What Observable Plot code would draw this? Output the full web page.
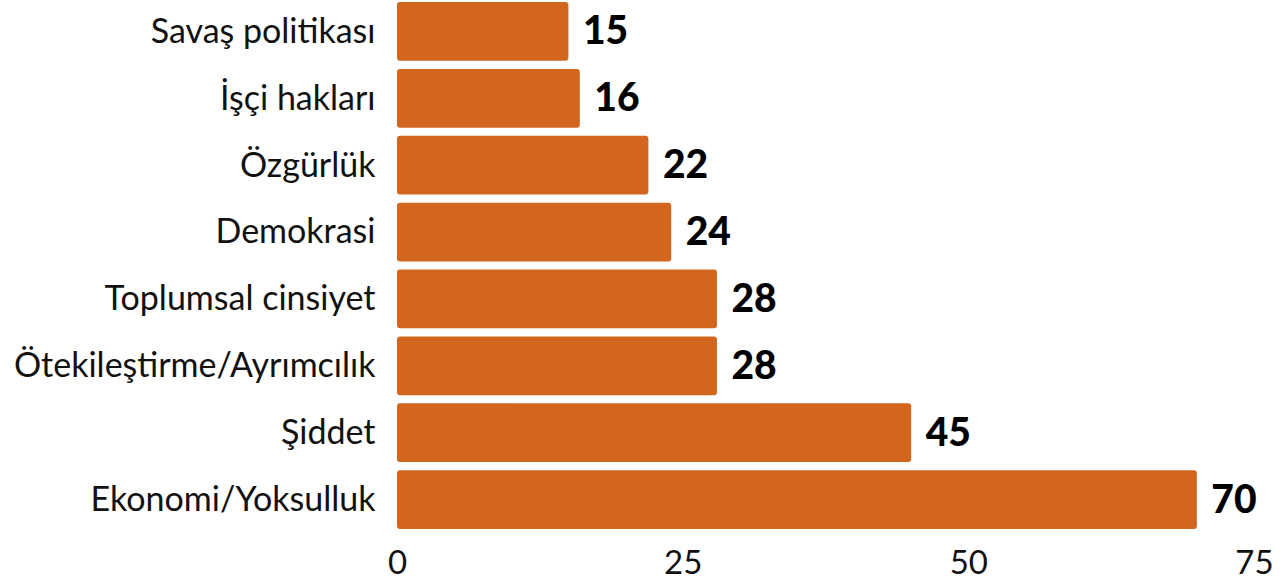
<!DOCTYPE html>
<html>
<head>
<meta charset="utf-8">
<script src="https://cdn.jsdelivr.net/npm/d3@7"></script>
<script src="https://cdn.jsdelivr.net/npm/@observablehq/plot@0.6"></script>
<style>
  html, body { margin: 0; padding: 0; background: #fff; }
  #chart svg { display: block; }
</style>
</head>
<body>
<div id="chart"></div>
<script>
const categories = ["Savaş politikası", "İşçi hakları", "Özgürlük", "Demokrasi", "Toplumsal cinsiyet", "Ötekileştirme/Ayrımcılık", "Şiddet", "Ekonomi/Yoksulluk"];
const values = [15, 16, 22, 24, 28, 28, 45, 70];
const xTicks = [0, 25, 50, 75];

const data = categories.map((c, i) => ({category: c, value: values[i]}));

const chart = Plot.plot({
  width: 1287,
  height: 585,
  marginLeft: 397,
  marginRight: 33,
  marginTop: 2,
  marginBottom: 56,
  style: {fontFamily: "Lato, 'Open Sans', sans-serif", color: "#111", background: "#fff", overflow: "visible"},
  x: {domain: [0, 75], axis: null},
  y: {domain: categories, paddingInner: 0.12, paddingOuter: 0, round: false, axis: null},
  marks: [
    Plot.barX(data, {x: "value", y: "category", fill: "#D2661F", rx: 3}),
    Plot.text(data, {x: "value", y: "category", text: d => String(d.value), textAnchor: "start", dx: 14, fontSize: 39, fontWeight: 900, fill: "#000"}),
    Plot.axisY({tickSize: 0, tickPadding: 22, fontSize: 34, textAnchor: "end", color: "#111", label: null}),
    Plot.axisX({ticks: xTicks, tickSize: 0, tickPadding: 21, fontSize: 33, color: "#111", label: null, tickFormat: d => String(d)})
  ]
});
document.getElementById("chart").appendChild(chart);
</script>
</body>
</html>
